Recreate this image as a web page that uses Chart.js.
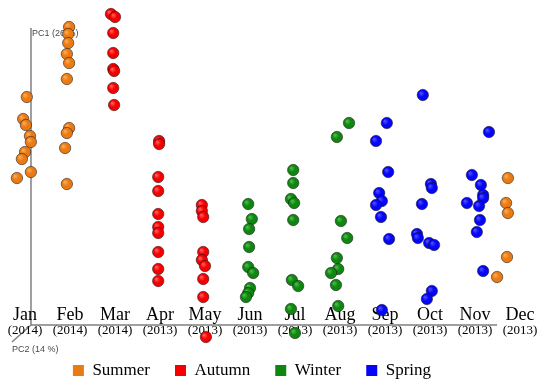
<!DOCTYPE html>
<html>
<head>
<meta charset="utf-8">
<script src="https://cdn.jsdelivr.net/npm/chart.js"></script>
<style>
  body { margin: 0; background: #fff; }
  #wrap { width: 550px; height: 385px; position: relative; }
</style>
</head>
<body>
<div id="wrap"><canvas id="pca"></canvas></div>
<script>
// months along the PC2 direction, with sampling year
const months = ['Jan', 'Feb', 'Mar', 'Apr', 'May', 'Jun', 'Jul', 'Aug', 'Sep', 'Oct', 'Nov', 'Dec'];
const years = ['(2014)', '(2014)', '(2014)', '(2013)', '(2013)', '(2013)', '(2013)', '(2013)', '(2013)', '(2013)', '(2013)', '(2013)'];
const seasons = ['Summer', 'Autumn', 'Winter', 'Spring'];
const seasonMonths = [[0, 1, 11], [2, 3, 4], [5, 6, 7], [8, 9, 10]];

// [offset from month column, PC1 score]
const jan = [[0.04, 22.8], [-0.04, 20.6], [0.02, 20.0], [0.11, 18.9], [0.13, 18.3], [0, 17.3], [-0.07, 16.6], [0.13, 15.3], [-0.18, 14.7]];
const feb = [[-0.02, 29.8], [-0.04, 29.1], [-0.04, 28.2], [-0.07, 27.1], [-0.02, 26.2], [-0.07, 24.6], [-0.02, 19.7], [-0.07, 19.2], [-0.11, 17.7], [-0.07, 14.1]];
const mar = [[-0.09, 31.1], [0, 30.8], [-0.04, 29.2], [-0.04, 27.2], [-0.04, 25.6], [-0.02, 25.4], [-0.04, 23.7], [-0.02, 22.0]];
const apr = [[-0.02, 18.4], [-0.02, 18.1], [-0.04, 14.8], [-0.04, 13.4], [-0.04, 11.1], [-0.04, 9.8], [-0.04, 9.2], [-0.04, 7.3], [-0.04, 5.6], [-0.04, 4.4]];
const may = [[-0.07, 12.0], [-0.07, 11.4], [-0.04, 10.8], [-0.04, 7.3], [-0.07, 6.5], [0, 5.9], [-0.04, 4.6], [-0.04, 2.8], [0.02, -1.2]];
const jun = [[-0.04, 12.1], [0.04, 10.6], [-0.02, 9.6], [-0.02, 7.8], [-0.04, 5.8], [0.07, 5.2], [0, 3.7], [-0.04, 3.2], [-0.09, 2.8]];
const jul = [[-0.04, 15.5], [-0.04, 14.2], [-0.09, 12.6], [-0.02, 12.2], [-0.04, 10.5], [-0.07, 4.5], [0.07, 3.9], [-0.09, 1.6], [0, -0.8]];
const aug = [[0.2, 20.2], [-0.07, 18.8], [0.02, 10.4], [0.16, 8.7], [-0.07, 6.7], [-0.04, 5.6], [-0.2, 5.2], [-0.09, 4.0], [-0.04, 1.9]];
const sep = [[0.04, 20.2], [-0.2, 18.4], [0.07, 15.3], [-0.13, 13.2], [-0.07, 12.4], [-0.2, 12.0], [-0.09, 10.8], [0.09, 8.6], [-0.07, 1.5]];
const oct = [[-0.16, 23.0], [0.02, 14.1], [0.04, 13.7], [-0.18, 12.1], [-0.29, 9.1], [-0.27, 8.7], [-0.02, 8.2], [0.09, 8.0], [0.04, 3.4], [-0.07, 2.6]];
const nov = [[0.31, 19.3], [-0.07, 15.0], [0.13, 14.0], [0.18, 13.0], [0.18, 12.7], [-0.18, 12.2], [0.09, 11.9], [0.11, 10.5], [0.04, 9.3], [0.18, 5.4]];
const dec = [[-0.27, 14.7], [-0.31, 12.2], [-0.27, 11.2], [0.07, 11.6], [0.13, 11.2], [-0.02, 10.0], [-0.29, 6.8], [-0.04, 5.8], [-0.51, 4.8], [0.29, 2.2]];

const byMonth = [jan, feb, mar, apr, may, jun, jul, aug, sep, oct, nov, dec];

const colors = [
  { base: '#ea7a14', light: '#ffa850', dark: '#8a3c00' },
  { base: '#f50000', light: '#ff5a5a', dark: '#800000' },
  { base: '#0f860f', light: '#4cb84c', dark: '#023f02' },
  { base: '#0505f8', light: '#4a4aff', dark: '#000078' }
];

function sphere(col) {
  return (c) => {
    if (!c.raw || !c.chart.chartArea) return col.base;
    const px = c.chart.scales.x.getPixelForValue(c.raw.x);
    const py = c.chart.scales.y.getPixelForValue(c.raw.y);
    const g = c.chart.ctx.createRadialGradient(px - 2, py - 2, 0.5, px, py, 6.5);
    g.addColorStop(0, col.light);
    g.addColorStop(0.45, col.base);
    g.addColorStop(0.85, col.base);
    g.addColorStop(1, col.dark);
    return g;
  };
}

const datasets = seasons.map((name, s) => ({
  label: name,
  data: seasonMonths[s].flatMap(m => byMonth[m].map(p => ({ x: m + p[0], y: p[1] }))),
  backgroundColor: sphere(colors[s]),
  borderColor: 'rgba(20,20,20,0.5)',
  borderWidth: 1,
  pointRadius: 5.7,
  pointHoverRadius: 5.7,
  clip: false
}));

// axes and month labels drawn behind the points
const decorations = {
  id: 'decorations',
  beforeDatasetsDraw(chart) {
    const { ctx, scales: { x, y } } = chart;
    const ox = x.getPixelForValue(0.133);
    const oy = y.getPixelForValue(0);
    ctx.save();
    ctx.strokeStyle = '#808080';
    ctx.lineWidth = 1.5;
    ctx.beginPath();
    ctx.moveTo(ox, y.getPixelForValue(29.7));
    ctx.lineTo(ox, oy);
    ctx.lineTo(x.getPixelForValue(10.49), oy);
    ctx.moveTo(ox, oy);
    ctx.lineTo(x.getPixelForValue(-0.29), y.getPixelForValue(-1.7));
    ctx.stroke();

    ctx.fillStyle = '#4a4a4a';
    ctx.font = '9px "Liberation Sans", Arial, sans-serif';
    ctx.textBaseline = 'middle';
    ctx.textAlign = 'left';
    ctx.fillText('PC1 (26 %)', ox + 1, y.getPixelForValue(29.1));
    ctx.fillText('PC2 (14 %)', x.getPixelForValue(-0.29), oy + 25);

    ctx.fillStyle = '#000';
    ctx.textAlign = 'center';
    months.forEach((m, i) => {
      const px = x.getPixelForValue(i);
      ctx.font = '18px "Liberation Serif", "Times New Roman", serif';
      ctx.textBaseline = 'alphabetic';
      ctx.fillText(m, px, oy - 5);
      ctx.font = '13px "Liberation Serif", "Times New Roman", serif';
      ctx.textBaseline = 'middle';
      ctx.fillText(years[i], px, oy + 6);
    });
    ctx.restore();
  }
};

new Chart(document.getElementById('pca'), {
  type: 'scatter',
  data: { datasets },
  options: {
    responsive: true,
    maintainAspectRatio: false,
    animation: false,
    layout: { autoPadding: false, padding: { left: 0, right: 46, top: 0, bottom: -4 } },
    scales: {
      x: { type: 'linear', display: false, min: -0.5556, max: 10.644 },
      y: { type: 'linear', display: false, min: -1.2, max: 32.5 }
    },
    plugins: {
      tooltip: { enabled: false },
      legend: {
        position: 'bottom',
        labels: {
          boxWidth: 11,
          boxHeight: 11,
          padding: 25,
          color: '#000',
          font: { family: '"Liberation Serif", "Times New Roman", serif', size: 17 },
          generateLabels: () => seasons.map((name, s) => ({
            text: name,
            fillStyle: colors[s].base,
            strokeStyle: colors[s].base,
            lineWidth: 0,
            hidden: false,
            datasetIndex: s
          }))
        }
      }
    }
  },
  plugins: [decorations]
});
</script>
</body>
</html>
